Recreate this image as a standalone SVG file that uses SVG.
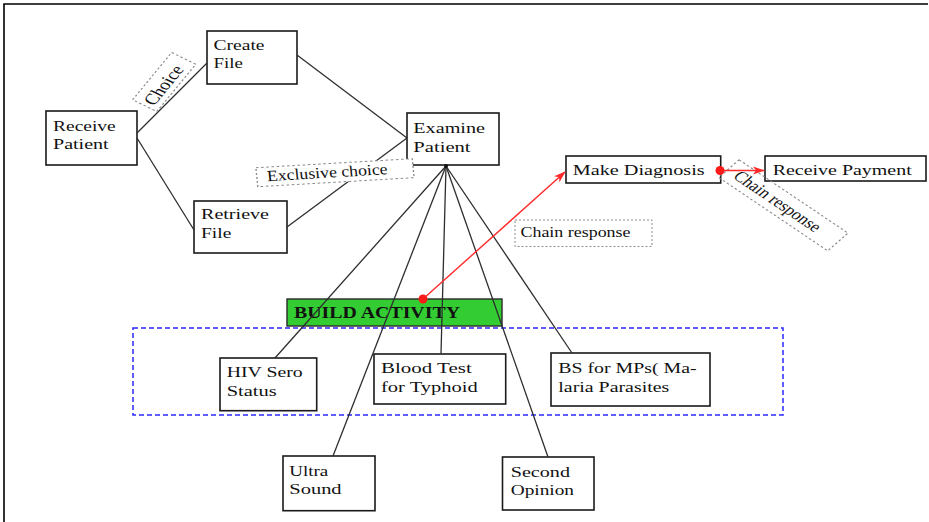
<svg xmlns="http://www.w3.org/2000/svg" width="929" height="522" viewBox="0 0 929 522">
  <style>
    .box { fill: #ffffff; stroke: #1a1a1a; stroke-width: 1.6; }
    .lbl { font-family: "Liberation Serif", "Times New Roman", serif; font-size: 15.5px; fill: #111111; }
    .bold { font-weight: bold; font-size: 16px; }
    .edge { stroke: #2e2e2e; stroke-width: 1.3; fill: none; }
    .resp { stroke: #ff2a2a; stroke-width: 1.4; fill: none; }
    .dot { fill: #ff1a1a; }
    .note { fill: none; stroke: #8a8a8a; stroke-width: 1; stroke-dasharray: 2 2; }
    .note.solid { fill: #ffffff; }
    .frame { stroke: #000000; stroke-width: 1.6; fill: none; }
  </style>
  <defs>
    <marker id="arrow-red" viewBox="0 0 12 10" refX="11" refY="5" markerWidth="12" markerHeight="10" markerUnits="userSpaceOnUse" orient="auto">
      <path d="M0,1 L12,5 L0,9 L3,5 Z" fill="#ff2a2a"/>
    </marker>
  </defs>

  <rect width="929" height="522" fill="#ffffff"/>
  <!-- page frame -->
  <path class="frame" d="M4,522 L4,4 L928,4"/>

  <!-- test activities container -->
  <g id="group-tests">
    <rect x="133" y="328" width="650" height="87" fill="none" stroke="#2a2aff" stroke-width="1.5" stroke-dasharray="5 3"/>
  </g>
  <g id="node-build-activity">
    <rect x="287" y="299" width="215" height="27" fill="#33cc33" stroke="#2a2a2a" stroke-width="1.4"/>
    <text class="lbl bold" x="294" y="318.3" textLength="166" lengthAdjust="spacingAndGlyphs">BUILD ACTIVITY</text>
  </g>

  <!-- activity nodes -->
  <g id="node-receive-patient">
    <rect class="box" x="46" y="111" width="91" height="54"/>
    <text class="lbl" x="53" y="131" textLength="62.7" lengthAdjust="spacingAndGlyphs">Receive</text>
    <text class="lbl" x="53" y="149.3" textLength="55.7" lengthAdjust="spacingAndGlyphs">Patient</text>
  </g>
  <g id="node-create-file">
    <rect class="box" x="207" y="31" width="90" height="53"/>
    <text class="lbl" x="213.5" y="50" textLength="51" lengthAdjust="spacingAndGlyphs">Create</text>
    <text class="lbl" x="213.5" y="68.3" textLength="29.3" lengthAdjust="spacingAndGlyphs">File</text>
  </g>
  <g id="node-retrieve-file">
    <rect class="box" x="194" y="201" width="93" height="52"/>
    <text class="lbl" x="201" y="219" textLength="68" lengthAdjust="spacingAndGlyphs">Retrieve</text>
    <text class="lbl" x="201" y="238.3" textLength="30.3" lengthAdjust="spacingAndGlyphs">File</text>
  </g>
  <g id="node-examine-patient">
    <rect class="box" x="407" y="113" width="92" height="52"/>
    <text class="lbl" x="413.3" y="133.3" textLength="71.7" lengthAdjust="spacingAndGlyphs">Examine</text>
    <text class="lbl" x="413.3" y="151.7" textLength="57.3" lengthAdjust="spacingAndGlyphs">Patient</text>
  </g>
  <g id="node-make-diagnosis">
    <rect class="box" x="566" y="156" width="154.7" height="27"/>
    <text class="lbl" x="572.7" y="175" textLength="132" lengthAdjust="spacingAndGlyphs">Make Diagnosis</text>
  </g>
  <g id="node-receive-payment">
    <rect class="box" x="765" y="156" width="161" height="25"/>
    <text class="lbl" x="772.7" y="175" textLength="139" lengthAdjust="spacingAndGlyphs">Receive Payment</text>
  </g>
  <g id="node-hiv">
    <rect class="box" x="220" y="358" width="96.7" height="52.7"/>
    <text class="lbl" x="226.7" y="377.3" textLength="76" lengthAdjust="spacingAndGlyphs">HIV Sero</text>
    <text class="lbl" x="226.7" y="396" textLength="50" lengthAdjust="spacingAndGlyphs">Status</text>
  </g>
  <g id="node-blood-test">
    <rect class="box" x="374" y="354" width="131.7" height="50"/>
    <text class="lbl" x="381" y="373.3" textLength="90.7" lengthAdjust="spacingAndGlyphs">Blood Test</text>
    <text class="lbl" x="381" y="391.7" textLength="96.7" lengthAdjust="spacingAndGlyphs">for Typhoid</text>
  </g>
  <g id="node-bs-mps">
    <rect class="box" x="551" y="353" width="159" height="53"/>
    <text class="lbl" x="558.3" y="373.3" textLength="138.3" lengthAdjust="spacingAndGlyphs">BS for MPs( Ma-</text>
    <text class="lbl" x="558.3" y="391.7" textLength="111" lengthAdjust="spacingAndGlyphs">laria Parasites</text>
  </g>
  <g id="node-ultra-sound">
    <rect class="box" x="283" y="456" width="92" height="54.7"/>
    <text class="lbl" x="289.3" y="475.7" textLength="39" lengthAdjust="spacingAndGlyphs">Ultra</text>
    <text class="lbl" x="289.3" y="494.3" textLength="52.3" lengthAdjust="spacingAndGlyphs">Sound</text>
  </g>
  <g id="node-second-opinion">
    <rect class="box" x="502.5" y="457" width="91.5" height="53"/>
    <text class="lbl" x="510.7" y="476.7" textLength="59.3" lengthAdjust="spacingAndGlyphs">Second</text>
    <text class="lbl" x="510.7" y="495" textLength="63.3" lengthAdjust="spacingAndGlyphs">Opinion</text>
  </g>

  <!-- connectors, drawn over the green bar -->
  <g id="connectors">
    <line class="edge" x1="137" y1="133" x2="207" y2="63"/>
    <line class="edge" x1="137" y1="138" x2="194" y2="230"/>
    <line class="edge" x1="297" y1="55" x2="407" y2="138"/>
    <line class="edge" x1="287" y1="227" x2="407" y2="138"/>
    <line class="edge" x1="446" y1="166" x2="275" y2="358"/>
    <line class="edge" x1="446" y1="166" x2="333" y2="456"/>
    <line class="edge" x1="446" y1="166" x2="441" y2="354"/>
    <line class="edge" x1="446" y1="166" x2="548" y2="457"/>
    <line class="edge" x1="446" y1="166" x2="572" y2="353"/>
    <circle cx="446" cy="166" r="2" fill="#111111"/>

    <!-- connector labels -->
    <g id="label-choice" transform="translate(164.2 82) scale(1.3 1) rotate(-57.6)">
      <rect class="note solid" x="-28" y="-11" width="56" height="22"/>
      <text class="lbl" x="-3" y="6.5" text-anchor="middle" textLength="44" lengthAdjust="spacingAndGlyphs">Choice</text>
    </g>
    <g id="label-exclusive" transform="translate(335 172.7) scale(1.3 1) rotate(-4.3)">
      <rect class="note solid" x="-60.3" y="-9.5" width="120.6" height="19"/>
      <text class="lbl" x="-52.5" y="4.5" font-size="14" textLength="93" lengthAdjust="spacingAndGlyphs">Exclusive choice</text>
    </g>
    <g id="label-chain-1">
      <rect class="note" x="515" y="220" width="137" height="26.5"/>
      <text class="lbl" x="520.5" y="237" textLength="110" lengthAdjust="spacingAndGlyphs">Chain response</text>
    </g>
    <g id="label-chain-2" transform="translate(783.4 205.3) scale(1.3 1) rotate(41.2)">
      <rect class="note" x="-55.6" y="-11.8" width="111.3" height="23.6"/>
      <text class="lbl" x="-6" y="5" font-size="14.5" text-anchor="middle" textLength="84" lengthAdjust="spacingAndGlyphs" fill="#000">Chain response</text>
    </g>

    <!-- chain response arrows -->
    <line class="resp" x1="423" y1="299" x2="565" y2="172" marker-end="url(#arrow-red)"/>
    <circle class="dot" cx="423" cy="299" r="4.5"/>
    <line class="resp" x1="720" y1="170.5" x2="764" y2="170.5" marker-end="url(#arrow-red)"/>
    <circle class="dot" cx="720" cy="170.5" r="4.5"/>
  </g>
</svg>
